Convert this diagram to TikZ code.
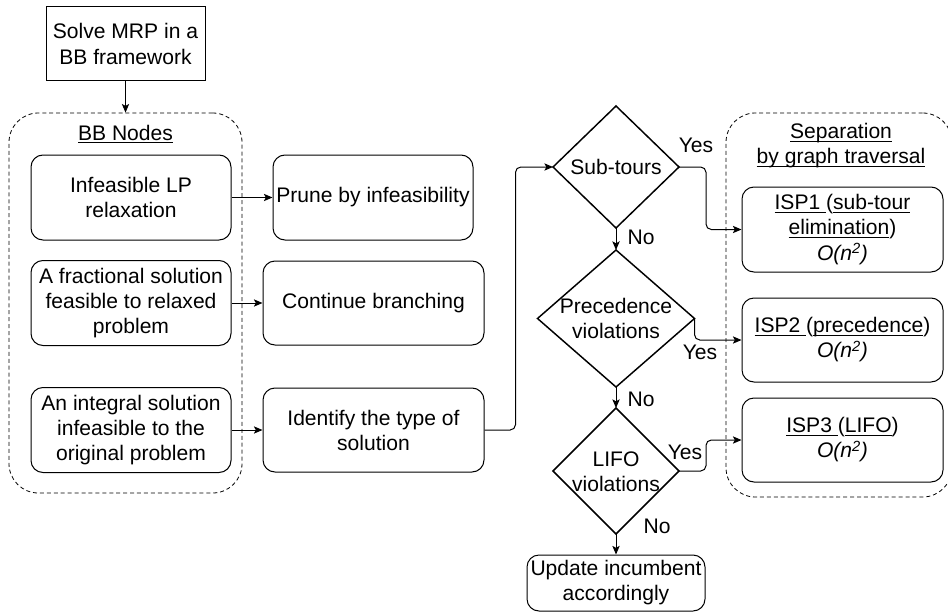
\documentclass[tikz,border=0pt]{standalone}
\usepackage{fontspec}
\setmainfont{Liberation Sans}
\usetikzlibrary{shapes.geometric,arrows.meta}

% underline that sits just below the baseline, whatever the descenders
\newcommand\ulin[1]{\setbox0\hbox{#1}\rlap{\rule[-2.2pt]{\wd0}{0.8pt}}\box0}
\newcommand\onsq{\textit{O(n\textsuperscript{2})}}

\tikzset{
  base/.style={font=\fontsize{15.8}{18.8}\selectfont, align=center, inner sep=0pt, line width=0.75pt},
  roundbox/.style={base, draw, rounded corners=9pt, minimum width=150pt, minimum height=63.75pt},
  widebox/.style={roundbox, minimum width=165.75pt, minimum height=63pt},
  plainbox/.style={base, draw, minimum width=119.25pt, minimum height=55.5pt},
  group/.style={draw, dash pattern=on 3pt off 2.2pt, line width=0.6pt, rounded corners=22pt, inner sep=0pt},
  decision/.style={draw, diamond, inner sep=0pt, outer sep=0pt, line width=1.1pt},
  flow/.style={line width=0.75pt, -{Stealth[length=6.5pt,width=5.5pt,inset=1.5pt]}, rounded corners=4pt},
  tag/.style={base},
}

\begin{document}
\begin{tikzpicture}[x=0.75pt,y=-0.75pt]
\useasboundingbox (0,0) rectangle (948,613);
\clip (0,0) rectangle (948,613);

% start
\node[plainbox] (solve) at (125.5,44) {Solve MRP in a\\BB framework};

% branch-and-bound node types
\node[group, minimum width=174.75pt, minimum height=285pt] (bbgroup) at (125.5,303) {};
\node[tag] (bbtitle) at (125.5,134) {\ulin{BB Nodes}};
\node[roundbox] (infeas) at (131,197.5) {Infeasible LP\\relaxation};
\node[roundbox] (frac) at (131,303) {A fractional solution\\feasible to relaxed\\problem};
\node[roundbox] (integ) at (131,430) {An integral solution\\infeasible to the\\original problem};

% actions
\node[roundbox] (prune) at (373,197.5) {Prune by infeasibility};
\node[widebox] (branch) at (373.5,303) {Continue branching};
\node[widebox] (ident) at (373.5,430) {Identify the type of\\solution};

% decisions
\node[decision, minimum width=94.5pt, minimum height=91.5pt] (sub) at (616,167) {};
\node[tag] (subtext) at (sub) {Sub-tours};
\node[decision, minimum width=117.75pt, minimum height=102.75pt] (prec) at (616,318.5) {};
\node[tag] (prectext) at (prec) {Precedence\\violations};
\node[decision, minimum width=94.5pt, minimum height=94.5pt] (lifo) at (616,471) {};
\node[tag] (lifotext) at (616,472) {LIFO\\violations};

\node[roundbox, minimum width=133.5pt, minimum height=42pt] (update) at (616,583) {Update incumbent\\accordingly};

% separation routines
\node[group, minimum width=169.5pt, minimum height=288pt] (sepgroup) at (839,305) {};
\node[tag] (septitle) at (841,146) {\ulin{Separation}\\\ulin{by graph traversal}};
\node[roundbox, minimum width=150.75pt] (isp1) at (842.5,229.5) {\ulin{ISP1 }(\ulin{sub-tour}\\\ulin{elimination})\\\onsq};
\node[roundbox, minimum width=150.75pt, minimum height=63pt] (isp2) at (842.5,340) {\ulin{ISP2 }(\ulin{precedence})\\\onsq};
\node[roundbox, minimum width=150.75pt, minimum height=63pt] (isp3) at (842.5,440) {\ulin{ISP3 }(\ulin{LIFO})\\\onsq};

% connectors
\draw[flow] (solve.south) -- (bbgroup.north);
\draw[flow] (infeas.east) -- (prune.west);
\draw[flow] (frac.east) -- (branch.west);
\draw[flow] (integ.east) -- (ident.west);
\draw[flow] (ident.east) -- ++(31,0) |- (sub.west);
\draw[flow] (sub.south) -- (prec.north);
\draw[flow] (prec.south) -- (lifo.north);
\draw[flow] (lifo.south) -- (update.north);
\draw[flow] (sub.east) -- ++(27,0) |- (isp1.west);
\draw[flow] (prec.east) |- (isp2.west);
\draw[flow] (lifo.east) -- ++(27,0) |- (isp3.west);

% branch labels
\node[tag] (yes1) at (696,145) {Yes};
\node[tag] (no1) at (641,237) {No};
\node[tag] (yes2) at (700,352) {Yes};
\node[tag] (no2) at (641,399) {No};
\node[tag] (yes3) at (685,452) {Yes};
\node[tag] (no3) at (657,526) {No};
\end{tikzpicture}
\end{document}
